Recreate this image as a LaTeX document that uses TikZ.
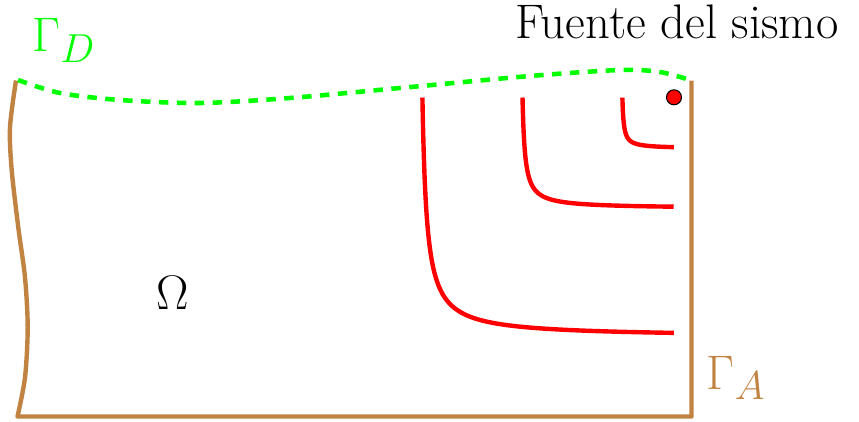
\documentclass[tikz,border=0pt]{standalone}
\usepackage{amsmath,amssymb}
\definecolor{borde}{RGB}{193,131,66}
\definecolor{verde}{RGB}{0,255,0}

\begin{document}
\begin{tikzpicture}[
    etiqueta/.style={inner sep=0pt,font=\Huge,scale=1.11,transform shape},
    onda/.style={draw=red,line width=2.5pt,line cap=butt},
    ]
  \useasboundingbox (0,0) rectangle (17.18,8.42);
  \coordinate (tl) at (0.32,6.81);
  \coordinate (br) at (13.83,0.09);
  \coordinate (tr) at (13.83,6.81);
  % borde absorbente
  \draw[borde,line width=2.5pt,line join=round]
    plot[smooth] coordinates {(tl) (0.20,5.87) (0.234,5.02) (0.366,3.87)
      (0.5,2.87) (0.554,1.87) (0.5,0.87) (0.35,0.09)}
    -- (br) -- (tr);
  % borde libre
  \draw[verde,line width=2.6pt,dash pattern=on 5.4pt off 4.8pt]
    plot[smooth] coordinates {(0.36,6.82) (1.2,6.56) (2.4,6.42) (4.0,6.36)
      (5.8,6.46) (8.0,6.66) (10.6,6.9) (12.4,7.02) (13.2,6.98) (tr)};
  % frentes de onda
  \draw[onda] plot[domain=-1.982:2.08,samples=60,smooth,variable=\t]
    ({8.36+0.64*exp(\t)},{1.68+0.66*exp(-\t)});
  \draw[onda] plot[domain=-1.894:2.22,samples=50,smooth,variable=\t]
    ({10.4+0.334*exp(\t)},{4.25+0.334*exp(-\t)});
  \draw[onda] plot[domain=-1.80:1.84,samples=40,smooth,variable=\t]
    ({12.42+0.168*exp(\t)},{5.45+0.168*exp(-\t)});
  \node[circle,fill=red,draw=black,line width=0.6pt,minimum size=0.3cm,inner sep=0pt] (sismo) at (13.48,6.474) {};
  % etiquetas
  \node[etiqueta,anchor=base] (fuente) at (13.54,7.66) {Fuente del sismo};
  \node[etiqueta,verde,anchor=base west] (gammaD) at (0.64,7.386) {$\Gamma_D$};
  \node[etiqueta,borde,anchor=base west] (gammaA) at (14.13,0.64) {$\Gamma_A$};
  \node[etiqueta,anchor=base] (omega) at (3.45,2.24) {$\Omega$};
\end{tikzpicture}
\end{document}
